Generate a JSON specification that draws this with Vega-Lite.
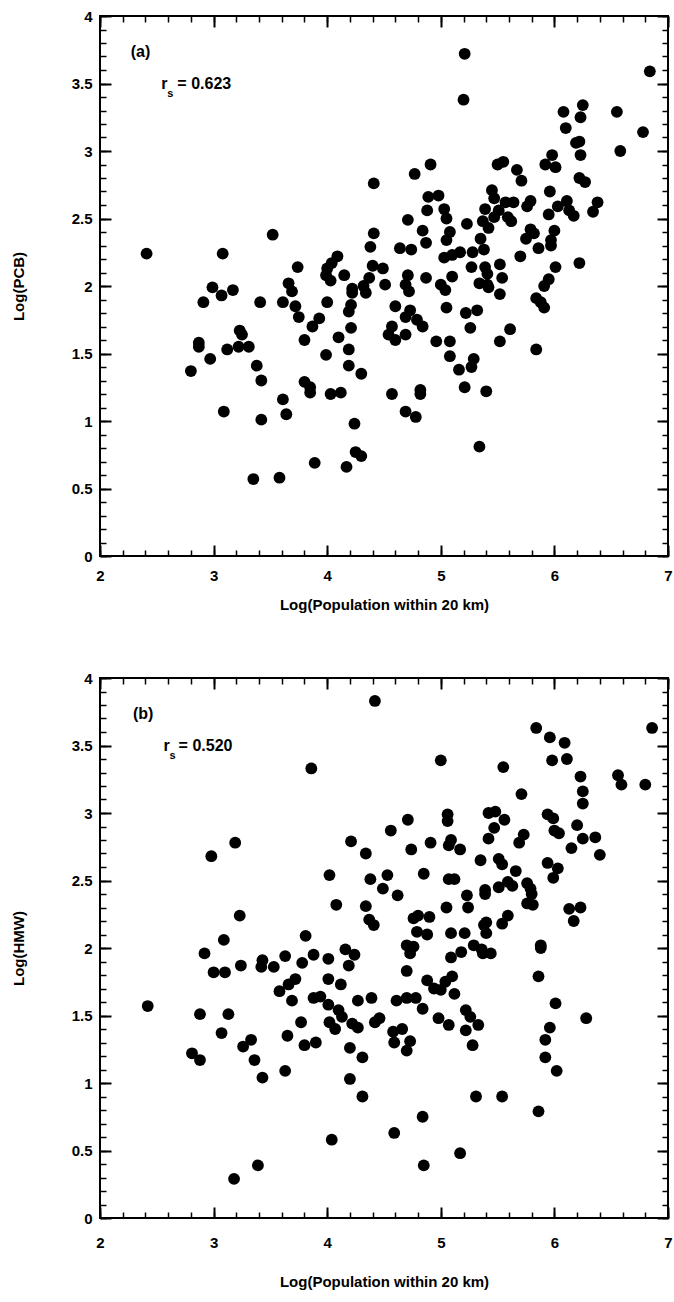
{
  "$schema": "https://vega.github.io/schema/vega-lite/v6.json",
  "background": "white",
  "padding": {"left": 10, "top": 8, "right": 2, "bottom": 2},
  "spacing": 122,
  "bounds": "flush",
  "config": {
    "view": {"stroke": "black", "strokeWidth": 2},
    "axis": {"domain": false, "grid": false, "ticks": true, "zindex": 1, "tickColor": "black", "tickWidth": 2, "tickOpacity": 1, "labelColor": "black", "titleColor": "black", "labelFont": "Liberation Sans", "titleFont": "Liberation Sans", "labelFontWeight": "bold", "titleFontWeight": "bold", "labelFontSize": 15, "titleFontSize": 15, "labelFlush": false, "labelOverlap": false},
    "text": {"font": "Liberation Sans", "fontWeight": "bold", "color": "black"}
  },
  "datasets": {
    "a": [
      {"x":2.41,"y":2.24},{"x":3.08,"y":2.24},{"x":3.52,"y":2.38},{"x":3.74,"y":2.14},{"x":3.66,"y":2.02},{"x":2.99,"y":1.99},{"x":3.17,"y":1.97},{"x":2.91,"y":1.88},{"x":3.07,"y":1.93},{"x":3.41,"y":1.88},{"x":3.69,"y":1.96},{"x":3.61,"y":1.88},{"x":3.72,"y":1.85},{"x":3.75,"y":1.77},{"x":2.87,"y":1.58},{"x":2.87,"y":1.55},{"x":2.97,"y":1.46},{"x":2.80,"y":1.37},{"x":3.12,"y":1.53},{"x":3.22,"y":1.55},{"x":3.23,"y":1.67},{"x":3.25,"y":1.64},{"x":3.31,"y":1.55},{"x":3.38,"y":1.41},{"x":3.42,"y":1.30},{"x":3.61,"y":1.16},{"x":3.64,"y":1.05},{"x":3.09,"y":1.07},{"x":3.42,"y":1.01},{"x":3.35,"y":0.57},{"x":3.58,"y":0.58},
      {"x":5.21,"y":3.72},{"x":5.20,"y":3.38},{"x":4.91,"y":2.90},{"x":4.77,"y":2.83},{"x":4.41,"y":2.76},{"x":4.89,"y":2.66},{"x":4.98,"y":2.67},{"x":4.88,"y":2.56},{"x":5.03,"y":2.57},{"x":5.05,"y":2.50},{"x":4.71,"y":2.49},{"x":5.23,"y":2.46},{"x":5.39,"y":2.57},{"x":5.37,"y":2.48},{"x":4.84,"y":2.41},{"x":5.08,"y":2.40},{"x":5.05,"y":2.34},{"x":4.41,"y":2.39},{"x":4.38,"y":2.29},{"x":4.87,"y":2.32},{"x":5.35,"y":2.35},{"x":4.64,"y":2.28},{"x":4.74,"y":2.27},{"x":5.03,"y":2.21},{"x":5.10,"y":2.23},{"x":5.17,"y":2.25},{"x":5.28,"y":2.25},{"x":4.09,"y":2.22},{"x":4.04,"y":2.17},{"x":4.00,"y":2.13},{"x":3.99,"y":2.08},{"x":4.03,"y":2.04},{"x":4.15,"y":2.08},{"x":4.40,"y":2.15},{"x":4.49,"y":2.13},{"x":5.27,"y":2.14},{"x":5.39,"y":2.14},{"x":4.37,"y":2.06},{"x":4.32,"y":2.00},{"x":4.22,"y":1.98},{"x":4.51,"y":2.01},{"x":4.71,"y":2.08},{"x":4.69,"y":2.01},{"x":4.87,"y":2.06},{"x":5.10,"y":2.07},{"x":5.00,"y":2.01},{"x":5.34,"y":2.02},
      {"x":4.00,"y":1.88},{"x":4.22,"y":1.95},{"x":4.34,"y":1.95},{"x":4.72,"y":1.96},{"x":5.04,"y":1.97},{"x":4.21,"y":1.86},{"x":4.19,"y":1.81},{"x":4.60,"y":1.85},{"x":4.73,"y":1.82},{"x":5.05,"y":1.84},{"x":4.69,"y":1.77},{"x":4.79,"y":1.75},{"x":4.84,"y":1.70},{"x":5.22,"y":1.80},{"x":5.32,"y":1.82},{"x":3.93,"y":1.76},{"x":3.87,"y":1.70},{"x":4.21,"y":1.69},{"x":4.57,"y":1.70},{"x":4.54,"y":1.64},{"x":4.60,"y":1.60},{"x":4.69,"y":1.64},{"x":5.26,"y":1.69},{"x":3.80,"y":1.60},{"x":4.10,"y":1.62},{"x":4.19,"y":1.53},{"x":4.96,"y":1.59},{"x":5.08,"y":1.59},{"x":3.99,"y":1.49},{"x":5.08,"y":1.48},{"x":4.19,"y":1.41},{"x":4.30,"y":1.35},{"x":5.29,"y":1.46},{"x":5.27,"y":1.40},{"x":5.16,"y":1.38},{"x":3.80,"y":1.29},{"x":3.85,"y":1.25},{"x":3.85,"y":1.21},{"x":4.03,"y":1.20},{"x":4.12,"y":1.21},{"x":4.57,"y":1.20},{"x":4.82,"y":1.23},{"x":4.82,"y":1.20},{"x":5.21,"y":1.25},{"x":5.40,"y":1.22},{"x":4.69,"y":1.07},{"x":4.78,"y":1.03},{"x":4.24,"y":0.98},{"x":5.34,"y":0.81},{"x":4.25,"y":0.77},{"x":4.30,"y":0.74},{"x":3.89,"y":0.69},{"x":4.17,"y":0.66},
      {"x":6.84,"y":3.59},{"x":6.08,"y":3.29},{"x":6.25,"y":3.34},{"x":6.23,"y":3.25},{"x":6.55,"y":3.29},{"x":6.10,"y":3.17},{"x":6.78,"y":3.14},{"x":6.58,"y":3.00},{"x":6.19,"y":3.06},{"x":6.22,"y":3.07},{"x":6.23,"y":2.97},{"x":5.98,"y":2.97},{"x":5.92,"y":2.90},{"x":6.01,"y":2.88},{"x":5.50,"y":2.90},{"x":5.55,"y":2.92},{"x":5.67,"y":2.86},{"x":5.71,"y":2.78},{"x":6.22,"y":2.80},{"x":6.27,"y":2.77},{"x":5.45,"y":2.71},{"x":5.47,"y":2.65},{"x":5.96,"y":2.70},{"x":5.79,"y":2.63},{"x":5.76,"y":2.59},{"x":5.57,"y":2.62},{"x":5.64,"y":2.62},{"x":5.51,"y":2.56},{"x":6.11,"y":2.63},{"x":6.03,"y":2.59},{"x":5.95,"y":2.53},{"x":6.13,"y":2.56},{"x":6.17,"y":2.52},{"x":6.38,"y":2.62},{"x":6.34,"y":2.55},{"x":5.47,"y":2.51},{"x":5.59,"y":2.51},{"x":5.62,"y":2.48},{"x":5.42,"y":2.43},{"x":5.79,"y":2.42},{"x":5.75,"y":2.35},{"x":5.82,"y":2.39},{"x":6.00,"y":2.41},{"x":5.97,"y":2.34},{"x":5.97,"y":2.30},{"x":5.38,"y":2.27},{"x":5.86,"y":2.28},{"x":5.70,"y":2.22},{"x":5.41,"y":2.09},{"x":5.52,"y":2.16},{"x":5.54,"y":2.06},{"x":6.01,"y":2.14},{"x":6.22,"y":2.17},{"x":5.95,"y":2.05},{"x":5.91,"y":2.00},{"x":5.41,"y":2.01},
      {"x":5.42,"y":1.99},{"x":5.52,"y":1.94},{"x":5.84,"y":1.91},{"x":5.88,"y":1.88},{"x":5.91,"y":1.84},{"x":5.61,"y":1.68},{"x":5.52,"y":1.59},{"x":5.84,"y":1.53}
    ],
    "b": [
      {"x":3.19,"y":2.78},{"x":2.98,"y":2.68},{"x":3.23,"y":2.24},{"x":3.09,"y":2.06},{"x":2.92,"y":1.96},{"x":3.00,"y":1.82},{"x":3.10,"y":1.82},{"x":3.24,"y":1.87},{"x":3.43,"y":1.91},{"x":3.42,"y":1.86},{"x":3.53,"y":1.86},{"x":3.63,"y":1.94},{"x":3.58,"y":1.68},{"x":3.66,"y":1.73},{"x":3.72,"y":1.77},{"x":3.69,"y":1.61},{"x":2.42,"y":1.57},{"x":2.88,"y":1.51},{"x":3.13,"y":1.51},{"x":3.07,"y":1.37},{"x":3.26,"y":1.27},{"x":3.33,"y":1.32},{"x":3.65,"y":1.35},{"x":2.81,"y":1.22},{"x":2.88,"y":1.17},{"x":3.36,"y":1.17},{"x":3.43,"y":1.04},{"x":3.63,"y":1.09},{"x":3.39,"y":0.39},{"x":3.18,"y":0.29},
      {"x":4.42,"y":3.83},{"x":3.86,"y":3.33},{"x":5.00,"y":3.39},{"x":5.06,"y":2.99},{"x":5.06,"y":2.94},{"x":4.71,"y":2.95},{"x":4.56,"y":2.87},{"x":5.42,"y":3.00},{"x":5.42,"y":2.81},{"x":4.21,"y":2.79},{"x":4.34,"y":2.70},{"x":4.74,"y":2.73},{"x":4.91,"y":2.78},{"x":5.09,"y":2.80},{"x":5.07,"y":2.76},{"x":5.17,"y":2.73},{"x":5.35,"y":2.65},{"x":4.02,"y":2.54},{"x":4.38,"y":2.51},{"x":4.53,"y":2.54},{"x":4.85,"y":2.55},{"x":5.07,"y":2.51},{"x":5.12,"y":2.51},{"x":4.49,"y":2.44},{"x":4.62,"y":2.39},{"x":5.39,"y":2.43},{"x":5.39,"y":2.40},{"x":5.23,"y":2.39},{"x":4.08,"y":2.32},{"x":4.34,"y":2.31},{"x":5.05,"y":2.30},{"x":5.24,"y":2.30},{"x":4.37,"y":2.21},{"x":4.41,"y":2.17},{"x":4.76,"y":2.22},{"x":4.80,"y":2.24},{"x":4.90,"y":2.23},{"x":5.40,"y":2.19},
      {"x":3.81,"y":2.09},{"x":4.79,"y":2.12},{"x":4.88,"y":2.10},{"x":5.09,"y":2.11},{"x":5.21,"y":2.11},{"x":4.70,"y":2.02},{"x":4.76,"y":2.01},{"x":4.73,"y":1.96},{"x":5.09,"y":1.93},{"x":5.18,"y":1.97},{"x":4.16,"y":1.99},{"x":4.24,"y":1.95},{"x":4.19,"y":1.87},{"x":3.88,"y":1.95},{"x":4.01,"y":1.92},{"x":3.78,"y":1.89},{"x":4.70,"y":1.83},{"x":4.01,"y":1.77},{"x":4.12,"y":1.73},{"x":4.88,"y":1.76},{"x":4.94,"y":1.70},{"x":5.04,"y":1.75},{"x":5.10,"y":1.79},{"x":5.00,"y":1.69},{"x":5.12,"y":1.66},{"x":3.88,"y":1.63},{"x":3.94,"y":1.64},{"x":4.01,"y":1.58},{"x":4.27,"y":1.61},{"x":4.39,"y":1.63},{"x":4.61,"y":1.61},{"x":4.70,"y":1.63},{"x":4.78,"y":1.63},{"x":4.84,"y":1.55},{"x":4.10,"y":1.54},{"x":4.13,"y":1.49},{"x":5.22,"y":1.54},{"x":5.26,"y":1.49},{"x":5.33,"y":1.43},{"x":4.98,"y":1.48},{"x":5.07,"y":1.43},{"x":3.77,"y":1.45},{"x":4.02,"y":1.45},{"x":4.07,"y":1.40},{"x":4.22,"y":1.44},{"x":4.27,"y":1.41},{"x":4.42,"y":1.45},{"x":4.46,"y":1.48},{"x":4.58,"y":1.38},{"x":4.66,"y":1.40},{"x":4.59,"y":1.30},{"x":4.73,"y":1.31},{"x":4.70,"y":1.24},{"x":5.22,"y":1.39},{"x":5.28,"y":1.28},{"x":3.80,"y":1.28},{"x":3.90,"y":1.30},{"x":4.20,"y":1.26},{"x":4.31,"y":1.19},{"x":4.20,"y":1.03},{"x":4.31,"y":0.90},{"x":5.31,"y":0.90},{"x":4.84,"y":0.75},{"x":4.59,"y":0.63},{"x":4.04,"y":0.58},{"x":5.17,"y":0.48},{"x":4.85,"y":0.39},{"x":5.29,"y":2.02},{"x":5.37,"y":1.96},
      {"x":5.84,"y":3.63},{"x":6.86,"y":3.63},{"x":5.96,"y":3.56},{"x":6.09,"y":3.52},{"x":5.98,"y":3.39},{"x":6.11,"y":3.40},{"x":5.55,"y":3.34},{"x":6.23,"y":3.27},{"x":6.56,"y":3.28},{"x":6.59,"y":3.21},{"x":6.80,"y":3.21},{"x":6.25,"y":3.16},{"x":6.25,"y":3.07},{"x":5.71,"y":3.14},{"x":5.48,"y":3.01},{"x":5.56,"y":2.95},{"x":5.94,"y":2.99},{"x":5.99,"y":2.96},{"x":5.47,"y":2.89},{"x":6.20,"y":2.91},{"x":6.00,"y":2.87},{"x":6.04,"y":2.85},{"x":5.73,"y":2.84},{"x":5.69,"y":2.78},{"x":6.25,"y":2.81},{"x":6.36,"y":2.82},{"x":6.15,"y":2.74},{"x":6.40,"y":2.69},{"x":5.51,"y":2.66},{"x":5.54,"y":2.62},{"x":5.94,"y":2.63},{"x":6.03,"y":2.59},{"x":5.66,"y":2.57},{"x":5.99,"y":2.52},{"x":5.51,"y":2.45},{"x":5.59,"y":2.49},{"x":5.63,"y":2.46},{"x":5.76,"y":2.48},{"x":5.79,"y":2.44},{"x":5.80,"y":2.40},{"x":5.76,"y":2.33},{"x":5.81,"y":2.32},{"x":6.13,"y":2.29},{"x":6.23,"y":2.30},{"x":6.17,"y":2.20},{"x":5.59,"y":2.24},{"x":5.54,"y":2.18},
      {"x":5.38,"y":2.17},{"x":5.40,"y":2.11},{"x":5.36,"y":1.99},{"x":5.44,"y":1.96},{"x":5.88,"y":2.02},{"x":5.88,"y":2.00},{"x":5.86,"y":1.79},{"x":6.01,"y":1.59},{"x":6.28,"y":1.48},{"x":5.96,"y":1.41},{"x":5.92,"y":1.32},{"x":5.92,"y":1.19},{"x":6.02,"y":1.09},{"x":5.54,"y":0.90},{"x":5.86,"y":0.79}
    ]
  },
  "vconcat": [
    {
      "width": 568, "height": 540,
      "layer": [
        {"data": {"name": "a"}, "mark": {"type": "circle", "color": "black", "opacity": 1, "size": 140},
         "encoding": {
           "x": {"field": "x", "type": "quantitative", "scale": {"domain": [2, 7], "nice": false, "zero": false},
                 "axis": {"orient": "bottom", "values": [2,3,4,5,6,7], "format": "~g", "tickSize": 11, "offset": -11, "labelPadding": 12, "title": "Log(Population within 20 km)", "titlePadding": 14}},
           "y": {"field": "y", "type": "quantitative", "scale": {"domain": [0, 4], "nice": false, "zero": false},
                 "axis": {"orient": "left", "values": [0,0.5,1,1.5,2,2.5,3,3.5,4], "format": "~g", "tickSize": 11, "offset": -11, "labelPadding": 8, "title": "Log(PCB)", "titlePadding": 45}}
         }},
        {"data": {"name": "a"}, "mark": {"type": "circle", "opacity": 0},
         "encoding": {
           "x": {"field": "x", "type": "quantitative", "axis": {"orient": "bottom", "values": [2,2.2,2.4,2.6,2.8,3,3.2,3.4,3.6,3.8,4,4.2,4.4,4.6,4.8,5,5.2,5.4,5.6,5.8,6,6.2,6.4,6.6,6.8,7], "tickSize": 6, "offset": -6, "tickWidth": 1.5, "labels": false, "title": null}},
           "y": {"field": "y", "type": "quantitative", "axis": {"orient": "left", "values": [0,0.1,0.2,0.3,0.4,0.5,0.6,0.7,0.8,0.9,1,1.1,1.2,1.3,1.4,1.5,1.6,1.7,1.8,1.9,2,2.1,2.2,2.3,2.4,2.5,2.6,2.7,2.8,2.9,3,3.1,3.2,3.3,3.4,3.5,3.6,3.7,3.8,3.9,4], "tickSize": 6, "offset": -6, "tickWidth": 1.5, "labels": false, "title": null}}
         }},
        {"data": {"name": "a"}, "mark": {"type": "circle", "opacity": 0},
         "encoding": {
           "x": {"field": "x", "type": "quantitative", "axis": {"orient": "top", "values": [2,3,4,5,6,7], "tickSize": 11, "offset": -11, "labels": false, "title": null}},
           "y": {"field": "y", "type": "quantitative", "axis": {"orient": "right", "values": [0,0.5,1,1.5,2,2.5,3,3.5,4], "tickSize": 11, "offset": -11, "labels": false, "title": null}}
         }},
        {"data": {"name": "a"}, "mark": {"type": "circle", "opacity": 0},
         "encoding": {
           "x": {"field": "x", "type": "quantitative", "axis": {"orient": "top", "values": [2,2.2,2.4,2.6,2.8,3,3.2,3.4,3.6,3.8,4,4.2,4.4,4.6,4.8,5,5.2,5.4,5.6,5.8,6,6.2,6.4,6.6,6.8,7], "tickSize": 6, "offset": -6, "tickWidth": 1.5, "labels": false, "title": null}},
           "y": {"field": "y", "type": "quantitative", "axis": {"orient": "right", "values": [0,0.1,0.2,0.3,0.4,0.5,0.6,0.7,0.8,0.9,1,1.1,1.2,1.3,1.4,1.5,1.6,1.7,1.8,1.9,2,2.1,2.2,2.3,2.4,2.5,2.6,2.7,2.8,2.9,3,3.1,3.2,3.3,3.4,3.5,3.6,3.7,3.8,3.9,4], "tickSize": 6, "offset": -6, "tickWidth": 1.5, "labels": false, "title": null}}
         }},
        {"data": {"values": [{}]}, "mark": {"type": "text", "fontSize": 16, "align": "left", "baseline": "middle"},
         "encoding": {"x": {"datum": 2.27, "type": "quantitative", "axis": null}, "y": {"datum": 3.73, "type": "quantitative", "axis": null}, "text": {"value": "(a)"}}},
        {"data": {"values": [{}]}, "mark": {"type": "text", "fontSize": 16, "align": "left", "baseline": "middle"},
         "encoding": {"x": {"datum": 2.54, "type": "quantitative", "axis": null}, "y": {"datum": 3.5, "type": "quantitative", "axis": null}, "text": {"value": "r"}}},
        {"data": {"values": [{}]}, "mark": {"type": "text", "fontSize": 11, "align": "left", "baseline": "middle", "dx": 6, "dy": 10},
         "encoding": {"x": {"datum": 2.54, "type": "quantitative", "axis": null}, "y": {"datum": 3.5, "type": "quantitative", "axis": null}, "text": {"value": "s"}}},
        {"data": {"values": [{}]}, "mark": {"type": "text", "fontSize": 16, "align": "left", "baseline": "middle", "dx": 16},
         "encoding": {"x": {"datum": 2.54, "type": "quantitative", "axis": null}, "y": {"datum": 3.5, "type": "quantitative", "axis": null}, "text": {"value": "= 0.623"}}}
      ],
      "resolve": {"axis": {"x": "independent", "y": "independent"}}
    },
    {
      "width": 568, "height": 540,
      "layer": [
        {"data": {"name": "b"}, "mark": {"type": "circle", "color": "black", "opacity": 1, "size": 140},
         "encoding": {
           "x": {"field": "x", "type": "quantitative", "scale": {"domain": [2, 7], "nice": false, "zero": false},
                 "axis": {"orient": "bottom", "values": [2,3,4,5,6,7], "format": "~g", "tickSize": 11, "offset": -11, "labelPadding": 17, "title": "Log(Population within 20 km)", "titlePadding": 24}},
           "y": {"field": "y", "type": "quantitative", "scale": {"domain": [0, 4], "nice": false, "zero": false},
                 "axis": {"orient": "left", "values": [0,0.5,1,1.5,2,2.5,3,3.5,4], "format": "~g", "tickSize": 11, "offset": -11, "labelPadding": 8, "title": "Log(HMW)", "titlePadding": 45}}
         }},
        {"data": {"name": "b"}, "mark": {"type": "circle", "opacity": 0},
         "encoding": {
           "x": {"field": "x", "type": "quantitative", "axis": {"orient": "bottom", "values": [2,2.2,2.4,2.6,2.8,3,3.2,3.4,3.6,3.8,4,4.2,4.4,4.6,4.8,5,5.2,5.4,5.6,5.8,6,6.2,6.4,6.6,6.8,7], "tickSize": 6, "offset": -6, "tickWidth": 1.5, "labels": false, "title": null}},
           "y": {"field": "y", "type": "quantitative", "axis": {"orient": "left", "values": [0,0.1,0.2,0.3,0.4,0.5,0.6,0.7,0.8,0.9,1,1.1,1.2,1.3,1.4,1.5,1.6,1.7,1.8,1.9,2,2.1,2.2,2.3,2.4,2.5,2.6,2.7,2.8,2.9,3,3.1,3.2,3.3,3.4,3.5,3.6,3.7,3.8,3.9,4], "tickSize": 6, "offset": -6, "tickWidth": 1.5, "labels": false, "title": null}}
         }},
        {"data": {"name": "b"}, "mark": {"type": "circle", "opacity": 0},
         "encoding": {
           "x": {"field": "x", "type": "quantitative", "axis": {"orient": "top", "values": [2,3,4,5,6,7], "tickSize": 11, "offset": -11, "labels": false, "title": null}},
           "y": {"field": "y", "type": "quantitative", "axis": {"orient": "right", "values": [0,0.5,1,1.5,2,2.5,3,3.5,4], "tickSize": 11, "offset": -11, "labels": false, "title": null}}
         }},
        {"data": {"name": "b"}, "mark": {"type": "circle", "opacity": 0},
         "encoding": {
           "x": {"field": "x", "type": "quantitative", "axis": {"orient": "top", "values": [2,2.2,2.4,2.6,2.8,3,3.2,3.4,3.6,3.8,4,4.2,4.4,4.6,4.8,5,5.2,5.4,5.6,5.8,6,6.2,6.4,6.6,6.8,7], "tickSize": 6, "offset": -6, "tickWidth": 1.5, "labels": false, "title": null}},
           "y": {"field": "y", "type": "quantitative", "axis": {"orient": "right", "values": [0,0.1,0.2,0.3,0.4,0.5,0.6,0.7,0.8,0.9,1,1.1,1.2,1.3,1.4,1.5,1.6,1.7,1.8,1.9,2,2.1,2.2,2.3,2.4,2.5,2.6,2.7,2.8,2.9,3,3.1,3.2,3.3,3.4,3.5,3.6,3.7,3.8,3.9,4], "tickSize": 6, "offset": -6, "tickWidth": 1.5, "labels": false, "title": null}}
         }},
        {"data": {"values": [{}]}, "mark": {"type": "text", "fontSize": 16, "align": "left", "baseline": "middle"},
         "encoding": {"x": {"datum": 2.29, "type": "quantitative", "axis": null}, "y": {"datum": 3.73, "type": "quantitative", "axis": null}, "text": {"value": "(b)"}}},
        {"data": {"values": [{}]}, "mark": {"type": "text", "fontSize": 16, "align": "left", "baseline": "middle"},
         "encoding": {"x": {"datum": 2.56, "type": "quantitative", "axis": null}, "y": {"datum": 3.5, "type": "quantitative", "axis": null}, "text": {"value": "r"}}},
        {"data": {"values": [{}]}, "mark": {"type": "text", "fontSize": 11, "align": "left", "baseline": "middle", "dx": 6, "dy": 10},
         "encoding": {"x": {"datum": 2.56, "type": "quantitative", "axis": null}, "y": {"datum": 3.5, "type": "quantitative", "axis": null}, "text": {"value": "s"}}},
        {"data": {"values": [{}]}, "mark": {"type": "text", "fontSize": 16, "align": "left", "baseline": "middle", "dx": 15},
         "encoding": {"x": {"datum": 2.56, "type": "quantitative", "axis": null}, "y": {"datum": 3.5, "type": "quantitative", "axis": null}, "text": {"value": "= 0.520"}}}
      ],
      "resolve": {"axis": {"x": "independent", "y": "independent"}}
    }
  ]
}
